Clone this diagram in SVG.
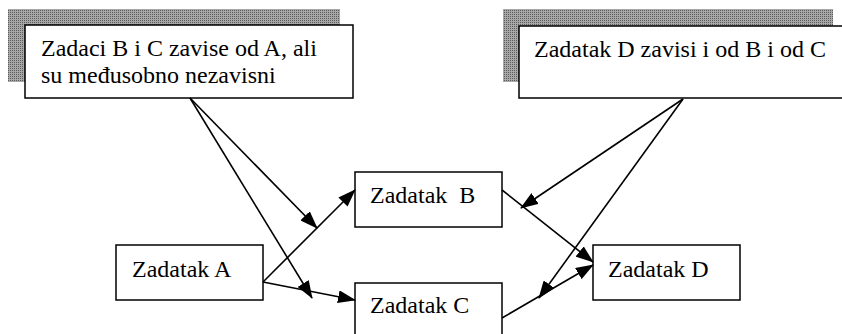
<svg xmlns="http://www.w3.org/2000/svg" width="842" height="334" viewBox="0 0 842 334">
<style>
.t{font-family:"Liberation Serif","Times New Roman",serif;font-size:24px;fill:#000;white-space:pre}
.box{fill:#fff;stroke:#000;stroke-width:1.5}
.shadow{fill:url(#dots);stroke:none}
.conn line{stroke:#000;stroke-width:1.6}
</style>
<defs>
<pattern id="dots" width="2" height="2" patternUnits="userSpaceOnUse">
<rect width="2" height="2" fill="#a8a8a8"/>
<rect width="1" height="1" fill="#5a5a5a"/>
</pattern>
<marker id="arr" viewBox="0 0 18 13" markerWidth="18" markerHeight="13" refX="17" refY="6.5" orient="auto" markerUnits="userSpaceOnUse">
<path d="M0,0 L18,6.5 L0,13 z" fill="#000"/>
</marker>
</defs>
<g id="note-left">
<rect class="shadow" x="8" y="9" width="332" height="73"/>
<rect class="box" x="25" y="25" width="328" height="73"/>
<text class="t" x="41" y="56">Zadaci B i C zavise od A, ali</text>
<text class="t" x="41" y="83">su međusobno nezavisni</text>
</g>
<g id="note-right">
<rect class="shadow" x="503" y="9" width="330" height="73"/>
<rect class="box" x="519" y="26" width="330" height="72"/>
<text class="t" x="534" y="57">Zadatak D zavisi i od B i od C</text>
</g>
<g id="task-a">
<rect class="box" x="116" y="245" width="147" height="55"/>
<text class="t" x="132" y="277">Zadatak A</text>
</g>
<g id="task-b">
<rect class="box" x="355" y="172" width="147" height="55"/>
<text class="t" x="370" y="203" xml:space="preserve">Zadatak  B</text>
</g>
<g id="task-c">
<rect class="box" x="355" y="283" width="147" height="55"/>
<text class="t" x="370" y="313">Zadatak C</text>
</g>
<g id="task-d">
<rect class="box" x="593" y="245" width="147" height="55"/>
<text class="t" x="608" y="277">Zadatak D</text>
</g>
<g id="connectors" class="conn">
<line x1="190" y1="98" x2="317" y2="228" marker-end="url(#arr)"/>
<line x1="190" y1="98" x2="312" y2="298" marker-end="url(#arr)"/>
<line x1="683" y1="99" x2="521" y2="208" marker-end="url(#arr)"/>
<line x1="683" y1="99" x2="539" y2="298" marker-end="url(#arr)"/>
<line x1="263" y1="282" x2="355" y2="190" marker-end="url(#arr)"/>
<line x1="263" y1="282" x2="355" y2="300" marker-end="url(#arr)"/>
<line x1="502" y1="190" x2="593" y2="262" marker-end="url(#arr)"/>
<line x1="502" y1="318" x2="593" y2="265" marker-end="url(#arr)"/>
</g>
</svg>
